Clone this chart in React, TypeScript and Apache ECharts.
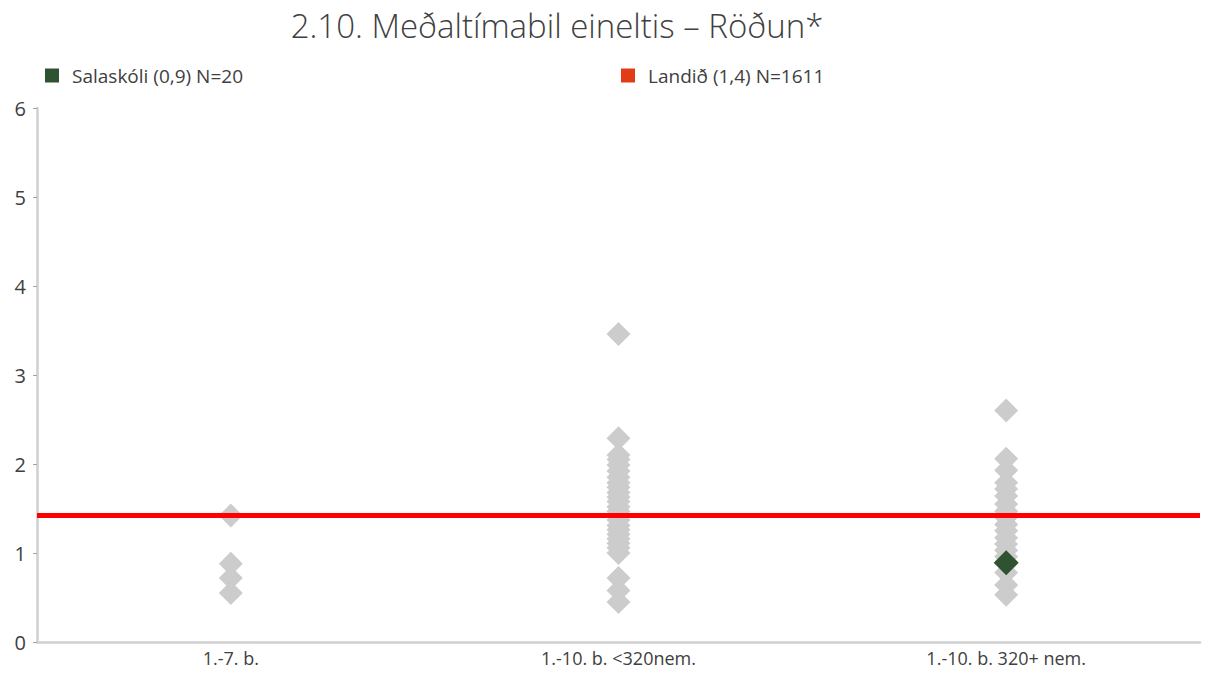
import React, { useEffect, useRef } from "react";
import * as echarts from "echarts";

const categories = ["1.-7. b.", "1.-10. b. <320nem.", "1.-10. b. 320+ nem."];
const yTicks = [0, 1, 2, 3, 4, 5, 6];

const otherCat1 = [1.42, 0.88, 0.72, 0.55];
const otherCat2 = [
  3.46, 2.29, 2.1, 2.05, 1.99, 1.92, 1.85, 1.79, 1.74, 1.68, 1.63, 1.58, 1.52,
  1.47, 1.42, 1.37, 1.31, 1.26, 1.21, 1.16, 1.11, 1.06, 1.0, 0.72, 0.58, 0.45,
];
const otherCat3 = [
  2.6, 2.06, 1.93, 1.79, 1.72, 1.64, 1.55, 1.47, 1.4, 1.32, 1.25, 1.17, 1.1,
  1.03, 0.96, 0.78, 0.64, 0.53,
];
const schoolName = "Salaskóli (0,9) N=20";
const schoolValues = [null, null, 0.89];
const nationName = "Landið (1,4) N=1611";
const nationValue = 1.42;

export default function App() {
  const ref = useRef<HTMLDivElement>(null);
  useEffect(() => {
    document.body.style.margin = "0";
    if (!ref.current) return;
    const chart = echarts.init(ref.current, undefined, { renderer: "svg" });
    const others: [number, number][] = [];
    [otherCat1, otherCat2, otherCat3].forEach((arr, i) =>
      arr.forEach((v) => others.push([i, v]))
    );
    const font = "'Open Sans', Lato, sans-serif";
    const legendText = {
      fontFamily: font,
      fontSize: 19,
      color: "#404040",
      padding: [0, 0, 0, 8],
    };
    chart.setOption({
      animation: false,
      backgroundColor: "#ffffff",
      title: {
        text: "2.10. Meðaltímabil eineltis – Röðun*",
        left: 552,
        textAlign: "center",
        top: 4,
        textStyle: {
          fontFamily: font,
          fontSize: 33,
          fontWeight: 300,
          color: "#404040",
        },
      },
      legend: [
        {
          left: 40,
          top: 61,
          icon: "rect",
          itemWidth: 14,
          itemHeight: 14,
          textStyle: legendText,
          data: [
            { name: schoolName, itemStyle: { color: "#2F5230", opacity: 1 } },
          ],
        },
        {
          left: 616,
          top: 61,
          icon: "rect",
          itemWidth: 14,
          itemHeight: 14,
          textStyle: legendText,
          data: [
            { name: nationName, itemStyle: { color: "#E23B17", opacity: 1 } },
          ],
        },
      ],
      grid: { left: 37, right: 12, top: 108, bottom: 31, containLabel: false },
      xAxis: {
        type: "category",
        data: categories,
        boundaryGap: true,
        axisLine: { lineStyle: { color: "#d0d0d0", width: 2.5 } },
        axisTick: { show: false },
        axisLabel: {
          fontFamily: font,
          fontSize: 18,
          color: "#404040",
          margin: 7,
        },
        splitLine: { show: false },
      },
      yAxis: {
        type: "value",
        min: yTicks[0],
        max: yTicks[yTicks.length - 1],
        interval: 1,
        axisLine: { show: true, lineStyle: { color: "#d0d0d0", width: 2.5 } },
        axisTick: { show: true, length: 4, lineStyle: { color: "#a0a0a0" } },
        axisLabel: {
          fontFamily: font,
          fontSize: 20,
          color: "#404040",
          margin: 11,
        },
        splitLine: { show: false },
      },
      series: [
        {
          name: "others",
          type: "scatter",
          symbol: "diamond",
          symbolSize: 24,
          itemStyle: { color: "#cccccc", opacity: 1 },
          data: others,
          z: 2,
        },
        {
          name: schoolName,
          type: "scatter",
          symbol: "diamond",
          symbolSize: 25,
          itemStyle: { color: "#2F5230", opacity: 1 },
          data: schoolValues,
          z: 4,
        },
        {
          name: nationName,
          type: "scatter",
          data: [],
          itemStyle: { color: "#E23B17", opacity: 1 },
          markLine: {
            silent: true,
            symbol: ["none", "none"],
            label: { show: false },
            lineStyle: { color: "#ff0000", width: 5, type: "solid" },
            data: [{ yAxis: nationValue }],
          },
          z: 3,
        },
      ],
    });
    return () => chart.dispose();
  }, []);
  return <div ref={ref} style={{ width: 1212, height: 673 }} />;
}
